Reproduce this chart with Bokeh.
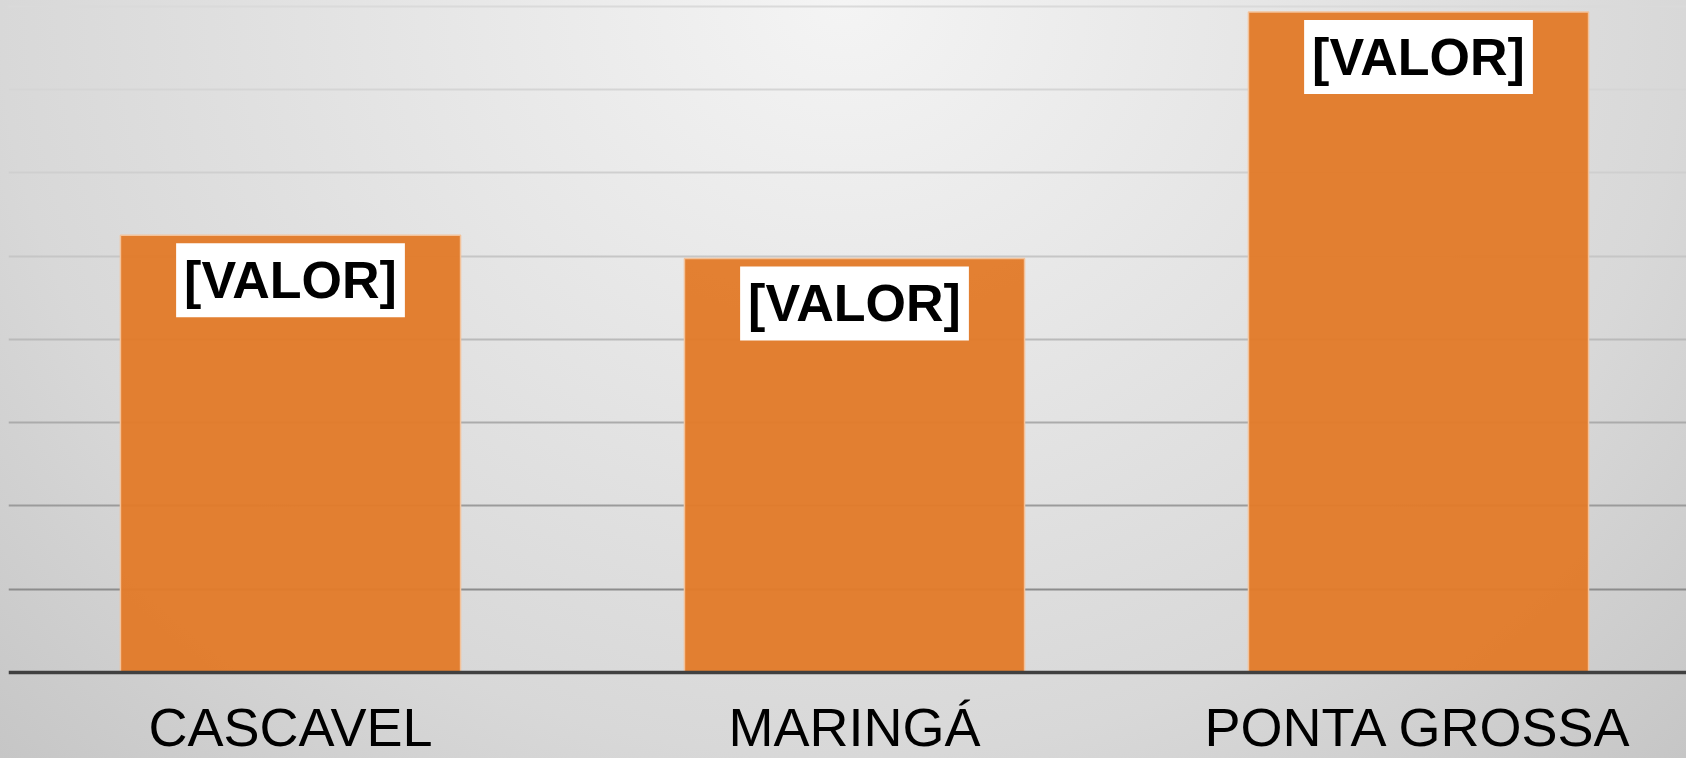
import numpy as np
from bokeh.plotting import figure
from bokeh.models import Range1d, FixedTicker, Grid, ColumnDataSource, Span
from bokeh.core.properties import value
from bokeh.embed import file_html
from bokeh.resources import INLINE

# ---- data ----
categories = ["CASCAVEL", "MARINGÁ", "PONTA GROSSA"]
values = [5.25, 4.97, 7.93]
value_labels = ["[VALOR]", "[VALOR]", "[VALOR]"]
grid_levels = [1, 2, 3, 4, 5, 6, 7, 8]

# ---- layout / styles ----
grid_colors = ["#8c8c8c", "#9b9b9b", "#ababab", "#bababa", "#c6c6c6",
               "#cfcfcf", "#d5d5d5", "#dadada"]
BAR_COLOR = "#E27B2A"
W, H = 1686, 758
LEFT = 8            # frame left edge (px)
SLOT = 564          # pixel width of one category slot
AXIS_Y = 672        # pixel row of the baseline
PX_PER_UNIT = 83.3  # vertical pixels per value unit

xpos = np.arange(len(categories))
src = ColumnDataSource(dict(x=xpos, top=values, label=value_labels,
                            cat=categories, base=np.zeros(len(categories))))

p = figure(width=W, height=H, output_backend="svg", toolbar_location=None,
           x_range=Range1d(-0.5, -0.5 + (W - LEFT) / SLOT),
           y_range=Range1d(-(H - AXIS_Y) / PX_PER_UNIT, AXIS_Y / PX_PER_UNIT),
           min_border_left=LEFT, min_border_right=0, min_border_top=0,
           min_border_bottom=0, x_axis_location=None, y_axis_location=None,
           background_fill_color=None, border_fill_color=None,
           outline_line_color=None)

p.xgrid.visible = False
p.ygrid.visible = False
for lvl, col in zip(grid_levels, grid_colors):
    p.add_layout(Grid(dimension=1, ticker=FixedTicker(ticks=[lvl]),
                      grid_line_color=col, grid_line_width=2))

p.vbar(x="x", top="top", bottom=0, width=0.603, source=src,
       fill_color=BAR_COLOR, fill_alpha=0.96,
       line_color="#F3C29A", line_width=1.5)

# baseline (category axis line)
p.add_layout(Span(location=0, dimension="width", line_color="#404040",
                  line_width=3.5))

# value labels in white boxes
p.text(x="x", y="top", text="label", source=src,
       text_font=value("Liberation Sans"), text_font_style="bold",
       text_font_size="52px", text_color="black",
       text_align="center", text_baseline="top", y_offset=8,
       background_fill_color="white", padding=8)

# category labels under the baseline
p.text(x="x", y="base", text="cat", source=src,
       text_font=value("Liberation Sans"), text_font_size="54px",
       text_color="black", text_align="center",
       text_baseline="top", y_offset=24)

TEMPLATE = """
{% block preamble %}
<style>
html {
  min-height: 100%;
  background: radial-gradient(ellipse 1054px 947px at 50% 0%,
              #f4f4f4 0%, #d8d8d8 80%, #c6c6c6 113%);
}
body { background: transparent; }
</style>
{% endblock %}
"""

open("out.html", "w").write(file_html(p, INLINE, template=TEMPLATE))
